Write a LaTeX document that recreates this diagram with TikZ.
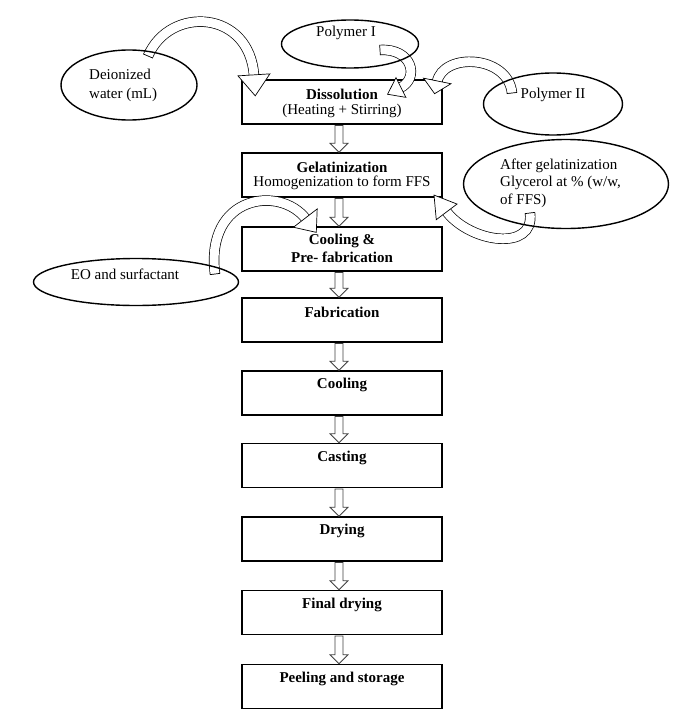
\documentclass[tikz,border=0pt]{standalone}
\usepackage{fontspec}
\setmainfont{Liberation Serif}
\usetikzlibrary{shapes.geometric,decorations.markings,calc}
\newcommand\varrow[2]{%
  \draw[varr] ($(#1.south)+(-7,0.7)$) -- ($(#2.north)+(-7,-9)$) -- ($(#2.north)+(-12,-9)$) --
    ($(#2.north)+(-3,0)$) -- ($(#2.north)+(6,-9)$) -- ($(#2.north)+(1,-9)$) --
    ($(#1.south)+(1,0.7)$) -- cycle;}
\newcommand\curvarr[3]{%
  \draw[shaft] #1;
  \path[decorate, decoration={markings,
    mark=at position 0 with {\draw[line width=0.7pt] (0,-5.2) -- (0,5.2);},
    mark=at position 0.999 with {\draw[line width=0.7pt, fill=white] (-1,-#2) -- (#3,0) -- (-1,#2) -- cycle;}}] #1;}
\begin{document}
\begin{tikzpicture}[x=1pt,y=-1pt,
  font=\fontsize{15}{17}\selectfont,
  stepbox/.style={draw, line width=1.4pt, minimum width=200pt, minimum height=44pt, inner sep=0pt},
  ttl/.style={font=\fontsize{15}{17}\selectfont\bfseries, inner sep=0pt},
  sub/.style={font=\fontsize{15}{17}\selectfont, inner sep=0pt},
  oval/.style={draw, ellipse, line width=1.4pt, inner sep=0pt},
  shaft/.style={draw=black, line width=0.7pt, double=white, double distance=9pt},
  varr/.style={draw=black!75, line width=0.8pt, fill=white}]
\useasboundingbox (0,0) rectangle (688,725);

% process boxes
\node[stepbox] (b1) at (342,102) {};
\node[stepbox] (b2) at (342,175) {};
\node[stepbox] (b3) at (342,249) {};
\node[stepbox] (b4) at (342,320) {};
\node[stepbox] (b5) at (342,393) {};
\node[stepbox] (b6) at (342,465.5) {};
\node[stepbox] (b7) at (342,539) {};
\node[stepbox] (b8) at (342,612.5) {};
\node[stepbox] (b9) at (342,686.5) {};

\node[ttl] (l1) at ($(b1.north)+(0,15)$) {Dissolution};
\node[sub] (s1) at ($(b1.north)+(0,32)$) {(Heating + Stirring)};
\node[ttl] (l2) at ($(b2.north)+(0,15)$) {Gelatinization};
\node[sub] (s2) at ($(b2.north)+(0,31)$) {Homogenization to form FFS};
\node[ttl] (l3) at ($(b3.north)+(0,15)$) {Cooling \&};
\node[ttl] (s3) at ($(b3.north)+(0,31)$) {Pre- fabrication};
\node[ttl] (l4) at ($(b4.north)+(0,15)$) {Fabrication};
\node[ttl] (l5) at ($(b5.north)+(0,15)$) {Cooling};
\node[ttl] (l6) at ($(b6.north)+(0,15)$) {Casting};
\node[ttl] (l7) at ($(b7.north)+(0,15)$) {Drying};
\node[ttl] (l8) at ($(b8.north)+(0,15)$) {Final drying};
\node[ttl] (l9) at ($(b9.north)+(0,15)$) {Peeling and storage};

% vertical block arrows
\varrow{b1}{b2}
\varrow{b2}{b3}
\varrow{b3}{b4}
\varrow{b4}{b5}
\varrow{b5}{b6}
\varrow{b6}{b7}
\varrow{b7}{b8}
\varrow{b8}{b9}

% curved arrow end points
\coordinate (t1) at (148,56);  \coordinate (e1) at (254,76);
\coordinate (t2) at (380,50);  \coordinate (e2) at (400,88);
\coordinate (t3) at (512,93);  \coordinate (e3) at (437,82);
\coordinate (t4) at (530,213); \coordinate (e4) at (446,211);
\coordinate (t5) at (215,274); \coordinate (e5) at (306,219);

\curvarr{(t1) .. controls (170,5) and (250,10) .. (e1)}{16}{20}
\curvarr{(t2) .. controls (412,48) and (420,78) .. (e2)}{11}{14}
\curvarr{(t3) .. controls (508,55) and (443,52) .. (e3)}{14}{12}
\curvarr{(t4) .. controls (535,252) and (470,243) .. (e4)}{13}{20}
\curvarr{(t5) .. controls (205,195) and (280,185) .. (e5)}{15}{17}

% input ellipses
\node[oval, minimum width=136pt, minimum height=70pt] (water) at (129,85) {};
\node[font=\fontsize{15}{19}\selectfont, align=left, anchor=west, inner sep=0pt] (waterT) at (89,85.5) {Deionized\\water (mL)};
\node[oval, minimum width=137pt, minimum height=48pt] (p1) at (350,44) {};
\node[sub] (p1T) at (346,33) {Polymer I};
\node[oval, minimum width=139pt, minimum height=62pt] (p2) at (553,104) {};
\node[sub] (p2T) at (553,95) {Polymer II};
\node[oval, minimum width=205pt, minimum height=89pt] (gly) at (566,184) {};
\node[font=\fontsize{15}{17.5}\selectfont, align=left, anchor=west, inner sep=0pt] (glyT) at (500,183) {After gelatinization\\Glycerol at \% (w/w,\\of FFS)};
\node[oval, minimum width=205pt, minimum height=47pt] (eo) at (136,282) {};
\node[sub] (eoT) at (125,274) {EO and surfactant};
\end{tikzpicture}
\end{document}
